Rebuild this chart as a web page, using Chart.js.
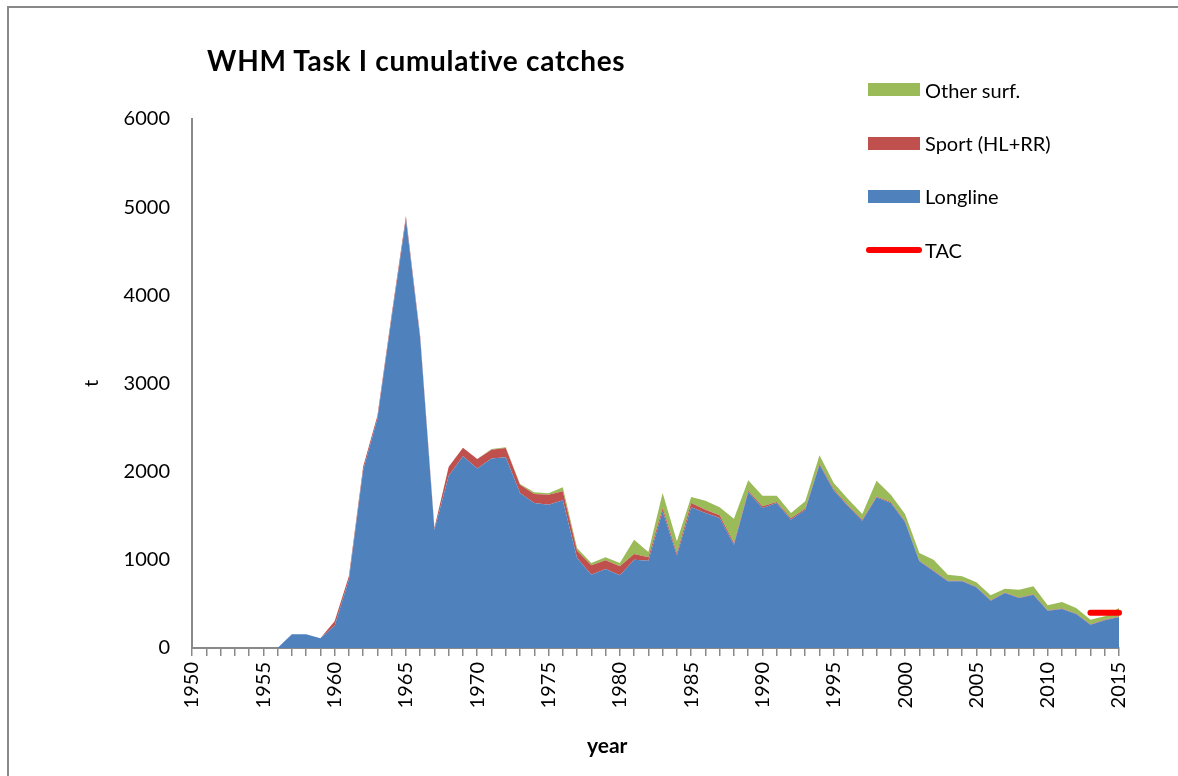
<!DOCTYPE html>
<html>
<head>
<meta charset="utf-8">
<script src="https://cdn.jsdelivr.net/npm/chart.js@4.4.0/dist/chart.umd.min.js"></script>
<style>
  html, body { margin: 0; padding: 0; background: #fff; }
  #wrap { position: relative; width: 1178px; height: 776px; overflow: hidden; font-family: Lato, "Open Sans", sans-serif; }
  #frame { position: absolute; left: 7px; top: 6px; width: 1300px; height: 900px; border-left: 2px solid #898989; border-top: 2px solid #898989; }
  canvas { position: absolute; left: 0; top: 0; }
  .txt { position: absolute; white-space: nowrap; color: #000; line-height: 1.2; }
  #title { left: 207px; top: 44px; font-size: 28px; letter-spacing: 0.7px; font-weight: bold; }
  #xtitle { left: 587px; top: 732px; font-size: 21px; font-weight: bold; }
  .lg-box { position: absolute; left: 868px; width: 52px; height: 13px; }
  .lg-txt { left: 925px; font-size: 20px; }
  #lg-tac { position: absolute; left: 866px; top: 247px; width: 56px; height: 6px; border-radius: 3px; background: #ff0000; }
</style>
</head>
<body>
<div id="wrap">
  <div id="frame"></div>
  <canvas id="catchChart" width="1178" height="776"></canvas>
  <div id="title" class="txt">WHM Task I cumulative catches</div>
  <div id="xtitle" class="txt">year</div>

  <div class="lg-box" style="top:83px;background:#9BBB59"></div>
  <div class="txt lg-txt" style="top:78px">Other surf.</div>
  <div class="lg-box" style="top:137px;background:#C0504D"></div>
  <div class="txt lg-txt" style="top:131px">Sport (HL+RR)</div>
  <div class="lg-box" style="top:190px;background:#4F81BD"></div>
  <div class="txt lg-txt" style="top:184px">Longline</div>
  <div id="lg-tac"></div>
  <div class="txt lg-txt" style="top:238px">TAC</div>
</div>

<script>
// task I catches (t) by gear
const years = [1950, 1951, 1952, 1953, 1954, 1955, 1956, 1957, 1958, 1959,
  1960, 1961, 1962, 1963, 1964, 1965, 1966, 1967, 1968, 1969,
  1970, 1971, 1972, 1973, 1974, 1975, 1976, 1977, 1978, 1979,
  1980, 1981, 1982, 1983, 1984, 1985, 1986, 1987, 1988, 1989,
  1990, 1991, 1992, 1993, 1994, 1995, 1996, 1997, 1998, 1999,
  2000, 2001, 2002, 2003, 2004, 2005, 2006, 2007, 2008, 2009,
  2010, 2011, 2012, 2013, 2014, 2015];

const longline = [0, 0, 0, 0, 0, 0, 0, 155, 155, 110,
  252, 775, 2015, 2600, 3750, 4860, 3510, 1340, 1955, 2175,
  2035, 2150, 2163, 1758, 1645, 1626, 1675, 1021, 832, 896,
  824, 1002, 991, 1550, 1051, 1595, 1531, 1474, 1172, 1769,
  1588, 1645, 1456, 1569, 2079, 1785, 1607, 1444, 1709, 1645,
  1429, 983, 870, 756, 756, 688, 537, 624, 567, 605,
  423, 442, 386, 265, 314, 352];

const sport = [0, 0, 0, 0, 0, 0, 0, 0, 0, 0,
  50, 40, 40, 35, 35, 40, 30, 23, 100, 95,
  110, 100, 105, 95, 102, 113, 102, 83, 106, 98,
  102, 64, 37, 38, 27, 50, 38, 31, 19, 15,
  19, 11, 15, 12, 10, 15, 12, 10, 10, 10,
  10, 8, 8, 6, 6, 6, 5, 5, 5, 5,
  5, 5, 5, 5, 5, 5];

const otherSurf = [0, 0, 0, 0, 0, 0, 0, 0, 0, 0,
  0, 0, 0, 0, 0, 0, 0, 0, 0, 0,
  0, 8, 8, 7, 19, 15, 45, 30, 26, 34,
  38, 163, 61, 170, 132, 68, 102, 90, 276, 118,
  121, 72, 60, 83, 96, 71, 71, 66, 179, 84,
  81, 87, 124, 70, 51, 51, 55, 44, 90, 89,
  56, 75, 63, 51, 40, 97];

const tac = [null, null, null, null, null, null, null, null, null, null,
  null, null, null, null, null, null, null, null, null, null,
  null, null, null, null, null, null, null, null, null, null,
  null, null, null, null, null, null, null, null, null, null,
  null, null, null, null, null, null, null, null, null, null,
  null, null, null, null, null, null, null, null, null, null,
  null, null, null, 400, 400, 400];

const yTicks = [0, 1000, 2000, 3000, 4000, 5000, 6000];

const tickFont = { family: 'Lato', size: 20 };
const axisGrey = '#898989';

function area(label, values, colour, fill) {
  return {
    label: label,
    data: values,
    stack: 'catch',
    backgroundColor: colour,
    borderColor: 'rgba(0,0,0,0)',
    borderWidth: 0,
    pointRadius: 0,
    tension: 0,
    fill: fill
  };
}

const ctx = document.getElementById('catchChart');
const chart = new Chart(ctx, {
  type: 'line',
  data: {
    labels: years,
    datasets: [
      area('Longline', longline, '#4F81BD', 'origin'),
      area('Sport (HL+RR)', sport, '#C0504D', '-1'),
      area('Other surf.', otherSurf, '#9BBB59', '-1'),
      {
        label: 'TAC',
        data: tac,
        stack: 'tac',
        order: -1,
        borderColor: '#FF0000',
        borderWidth: 6,
        borderCapStyle: 'round',
        pointRadius: 0,
        fill: false
      }
    ]
  },
  options: {
    responsive: false,
    animation: false,
    devicePixelRatio: 1,
    layout: { padding: { top: 119, right: 59, left: 0, bottom: 0 } },
    plugins: {
      legend: { display: false },
      title: { display: false },
      tooltip: { enabled: false }
    },
    scales: {
      x: {
        type: 'category',
        offset: false,
        grid: { display: true, drawOnChartArea: false, drawTicks: true, tickLength: 8, color: axisGrey, lineWidth: 1.5, offset: false },
        border: { display: true, color: axisGrey, width: 2 },
        ticks: {
          autoSkip: false,
          minRotation: 90,
          maxRotation: 90,
          padding: 6,
          color: '#000',
          font: tickFont,
          callback: function (val, i) {
            return years[i] % 5 === 0 ? String(years[i]) : '';
          }
        },
        afterFit: function (scale) { scale.height = 128; }
      },
      y: {
        stacked: true,
        min: 0,
        max: 6000,
        grid: { display: false, drawTicks: false },
        border: { display: true, color: axisGrey, width: 2 },
        afterBuildTicks: function (scale) {
          scale.ticks = yTicks.map(v => ({ value: v }));
        },
        ticks: {
          padding: 22,
          color: '#000',
          font: tickFont,
          callback: function (v) { return String(v); }
        },
        title: { display: true, text: 't', color: '#000', font: tickFont, padding: { top: 80, bottom: 0 } },
        afterFit: function (scale) { scale.width = 192; }
      }
    }
  }
});
</script>
</body>
</html>
